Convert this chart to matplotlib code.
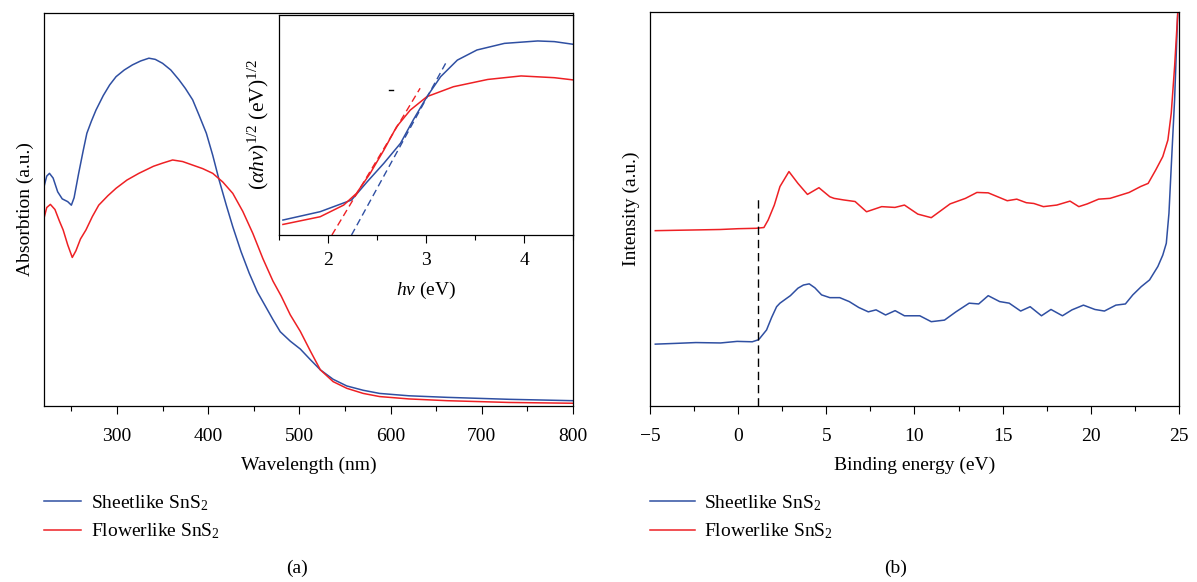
import matplotlib
matplotlib.use("Agg")
import matplotlib.pyplot as plt
from matplotlib.ticker import MultipleLocator

plt.rcParams['font.family'] = ['Liberation Serif', 'DejaVu Serif']
plt.rcParams['mathtext.fontset'] = 'custom'
plt.rcParams['mathtext.rm'] = 'Liberation Serif'
plt.rcParams['mathtext.it'] = 'Liberation Serif:italic'
plt.rcParams['mathtext.bf'] = 'Liberation Serif:bold'

BLUE = '#2f4fa2'
RED = '#ee2024'

# --- (a) absorption spectra ---
wl_sheet = [220, 223, 226, 230, 235, 240, 246, 250, 253, 258, 263, 267, 272, 277, 285, 292,
            299, 308, 317, 326, 335, 342, 350, 359, 368, 375, 383, 390, 398, 405, 412, 420,
            427, 436, 445, 454, 463, 471, 479, 490, 501, 512, 523, 537, 552, 570, 588, 620,
            662, 730, 800]
abs_sheet = [0.558, 0.585, 0.592, 0.580, 0.545, 0.527, 0.520, 0.511, 0.530, 0.592, 0.650, 0.694,
             0.725, 0.753, 0.790, 0.817, 0.838, 0.855, 0.868, 0.878, 0.885, 0.882, 0.872, 0.855,
             0.830, 0.808, 0.779, 0.740, 0.694, 0.638, 0.575, 0.510, 0.456, 0.393, 0.338, 0.290,
             0.253, 0.220, 0.189, 0.165, 0.145, 0.118, 0.092, 0.068, 0.051, 0.040, 0.032, 0.026,
             0.022, 0.017, 0.0135]

wl_flower = [220, 223, 227, 232, 237, 241, 246, 251, 255, 260, 266, 273, 280, 290, 299, 311,
             324, 340, 350, 361, 372, 383, 394, 405, 416, 427, 438, 449, 460, 471, 480, 490,
             501, 512, 523, 537, 552, 570, 588, 620, 662, 730, 800]
abs_flower = [0.478, 0.505, 0.513, 0.500, 0.470, 0.448, 0.410, 0.378, 0.395, 0.425, 0.448, 0.482,
              0.511, 0.535, 0.554, 0.575, 0.592, 0.610, 0.618, 0.626, 0.622, 0.613, 0.604, 0.592,
              0.570, 0.541, 0.495, 0.439, 0.375, 0.318, 0.280, 0.232, 0.190, 0.140, 0.092, 0.062,
              0.045, 0.032, 0.024, 0.018, 0.0135, 0.009, 0.007]

# inset: Tauc plot
hv_sheet = [1.54, 1.92, 2.24, 2.40, 2.57, 2.74, 2.87, 3.01, 3.15, 3.32, 3.52, 3.80, 4.14, 4.31, 4.50]
tauc_sheet = [0.068, 0.106, 0.159, 0.242, 0.326, 0.417, 0.523, 0.629, 0.720, 0.795, 0.841,
              0.871, 0.882, 0.879, 0.867]
hv_flower = [1.54, 1.92, 2.16, 2.29, 2.43, 2.57, 2.70, 2.84, 3.01, 3.28, 3.63, 3.97, 4.31, 4.50]
tauc_flower = [0.048, 0.083, 0.136, 0.189, 0.280, 0.386, 0.492, 0.568, 0.629, 0.674, 0.707,
               0.723, 0.715, 0.705]
fit_sheet_x = [2.24, 3.20]
fit_sheet_y = [0.0, 0.78]
fit_flower_x = [2.04, 2.94]
fit_flower_y = [0.0, 0.667]

# --- (b) valence band spectra ---
be_sheet = [-4.7, -3.5, -2.4, -1.0, -0.06, 0.8, 1.14, 1.23, 1.61, 1.90, 2.18, 2.37, 2.74, 2.96,
            3.39, 3.70, 4.03, 4.35, 4.73, 5.20, 5.76, 6.30, 6.84, 7.38, 7.82, 8.36, 8.90, 9.43,
            10.30, 10.95, 11.70, 12.35, 13.10, 13.64, 14.18, 14.83, 15.37, 16.02, 16.56, 17.20,
            17.74, 18.39, 18.93, 19.58, 20.23, 20.77, 21.42, 21.96, 22.38, 22.86, 23.33, 23.80,
            24.08, 24.28, 24.43, 24.56, 24.75, 24.93, 25.0]
int_sheet = [0.157, 0.159, 0.161, 0.160, 0.164, 0.163, 0.168, 0.172, 0.193, 0.225, 0.252, 0.261,
             0.273, 0.280, 0.299, 0.307, 0.310, 0.300, 0.282, 0.275, 0.275, 0.265, 0.250, 0.239,
             0.244, 0.231, 0.242, 0.229, 0.229, 0.214, 0.218, 0.239, 0.261, 0.259, 0.280, 0.265,
             0.261, 0.241, 0.252, 0.229, 0.245, 0.229, 0.244, 0.256, 0.245, 0.241, 0.256, 0.259,
             0.282, 0.303, 0.320, 0.354, 0.383, 0.413, 0.489, 0.607, 0.777, 1.0, 1.05]

be_flower = [-4.7, -3.5, -2.2, -1.0, 0.0, 1.0, 1.46, 1.70, 2.05, 2.37, 2.88, 3.39, 3.93, 4.58,
             5.20, 5.44, 5.98, 6.63, 7.28, 8.14, 8.89, 9.43, 10.19, 10.95, 12.02, 12.89, 13.54,
             14.18, 15.26, 15.80, 16.34, 16.77, 17.31, 18.07, 18.82, 19.32, 19.80, 20.44, 21.09,
             21.74, 22.17, 22.82, 23.25, 23.68, 24.08, 24.37, 24.56, 24.75, 24.93, 25.0]
int_flower = [0.445, 0.446, 0.447, 0.448, 0.450, 0.451, 0.453, 0.472, 0.510, 0.557, 0.595, 0.565,
              0.537, 0.554, 0.531, 0.527, 0.523, 0.519, 0.493, 0.506, 0.504, 0.510, 0.487, 0.478,
              0.513, 0.527, 0.542, 0.541, 0.521, 0.525, 0.516, 0.514, 0.506, 0.510, 0.520, 0.506,
              0.513, 0.525, 0.527, 0.536, 0.542, 0.557, 0.565, 0.599, 0.633, 0.675, 0.743, 0.861,
              0.997, 1.05]
vbm_edge = 1.15

labels = ['Sheetlike SnS$_2$', 'Flowerlike SnS$_2$']

fig = plt.figure(figsize=(11.97, 5.82), dpi=100)
ax1 = fig.add_axes([44 / 1197, 1 - 406 / 582, 529 / 1197, 393 / 582])
ax2 = fig.add_axes([650 / 1197, 1 - 406 / 582, 529 / 1197, 394 / 582])
axin = fig.add_axes([279 / 1197, 1 - 235 / 582, 294 / 1197, 220 / 582])

fs = 14
for ax in (ax1, ax2, axin):
    ax.tick_params(axis='x', which='major', direction='out', length=6, width=0.8,
                   labelsize=fs, pad=10)
    ax.tick_params(axis='x', which='minor', direction='out', length=3.5, width=0.8)
    ax.tick_params(axis='y', left=False, labelleft=False)
    for sp in ax.spines.values():
        sp.set_linewidth(0.9)
axin.tick_params(axis='x', which='major', pad=6)

# panel (a)
l1, = ax1.plot(wl_sheet, abs_sheet, color=BLUE, lw=1.1)
l2, = ax1.plot(wl_flower, abs_flower, color=RED, lw=1.1)
ax1.set_xlim(220, 800)
ax1.set_ylim(0, 1)
ax1.xaxis.set_major_locator(MultipleLocator(100))
ax1.xaxis.set_minor_locator(MultipleLocator(50))
ax1.set_xlabel('Wavelength (nm)', fontsize=fs, labelpad=8)
ax1.set_ylabel('Absorbtion (a.u.)', fontsize=fs, labelpad=7)

axin.plot(hv_sheet, tauc_sheet, color=BLUE, lw=1.1)
axin.plot(hv_flower, tauc_flower, color=RED, lw=1.1)
axin.plot(fit_sheet_x, fit_sheet_y, color=BLUE, lw=1.0, ls=(0, (5, 3)))
axin.plot(fit_flower_x, fit_flower_y, color=RED, lw=1.0, ls=(0, (5, 3)))
axin.plot([2.62, 2.66], [0.66, 0.66], color='black', lw=1.0)
axin.set_xlim(1.5, 4.5)
axin.set_ylim(0, 1)
axin.xaxis.set_major_locator(MultipleLocator(1))
axin.xaxis.set_minor_locator(MultipleLocator(0.5))
axin.set_xlabel(r'$h\nu$ (eV)', fontsize=fs, labelpad=8)
axin.set_ylabel(r'$(\alpha h\nu)^{1/2}\ (\mathrm{eV})^{1/2}$', fontsize=15.5, labelpad=6)

# panel (b)
ax2.plot(be_sheet, int_sheet, color=BLUE, lw=1.1)
ax2.plot(be_flower, int_flower, color=RED, lw=1.1)
ax2.plot([vbm_edge, vbm_edge], [0, 0.533], color='black', lw=1.0, ls=(0, (6, 3.5)))
ax2.set_xlim(-5, 25)
ax2.set_ylim(0, 1)
ax2.xaxis.set_major_locator(MultipleLocator(5))
ax2.xaxis.set_minor_locator(MultipleLocator(2.5))
ax2.set_xlabel('Binding energy (eV)', fontsize=fs, labelpad=8)
ax2.set_ylabel('Intensity (a.u.)', fontsize=fs, labelpad=7)

leg_kw = dict(loc='upper left', frameon=False, fontsize=fs, borderpad=0, borderaxespad=0,
              handletextpad=0.5, labelspacing=0.45)
fig.legend([l1, l2], labels, bbox_to_anchor=(44 / 1197, 1 - 493 / 582), handlelength=1.9, **leg_kw)
fig.legend([l1, l2], labels, bbox_to_anchor=(650 / 1197, 1 - 493 / 582), handlelength=2.3, **leg_kw)

fig.text(297 / 1197, 1 - 568 / 582, '(a)', fontsize=fs, ha='center', va='center')
fig.text(896 / 1197, 1 - 568 / 582, '(b)', fontsize=fs, ha='center', va='center')

fig.savefig('out.png', dpi=100)
